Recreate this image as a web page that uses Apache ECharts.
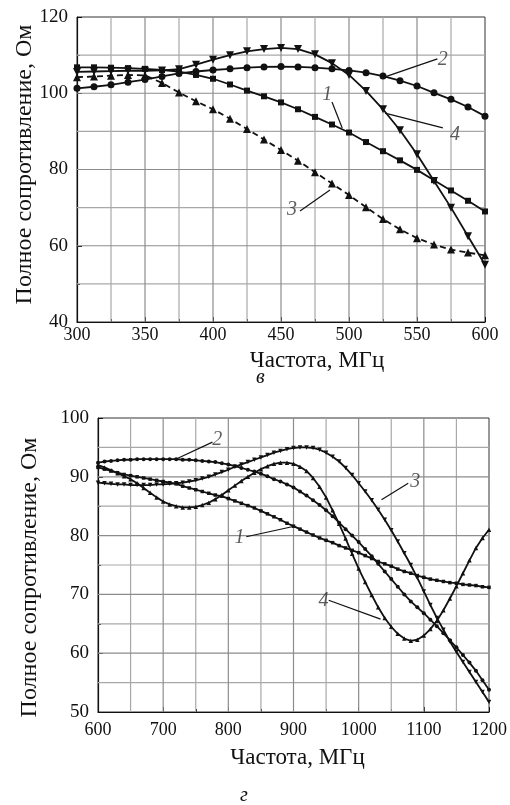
<!DOCTYPE html>
<html>
<head>
<meta charset="utf-8">
<script src="https://cdn.jsdelivr.net/npm/echarts@6/dist/echarts.min.js"></script>
<style>
  html, body { margin: 0; padding: 0; background: #fff; }
  #chartTop { position: absolute; left: 0; top: 0; width: 510px; height: 400px; }
  #chartBot { position: absolute; left: 0; top: 400px; width: 510px; height: 405px; }
</style>
</head>
<body>
<div id="chartTop"></div>
<div id="chartBot"></div>
<script>
// ---- panel "в": 300..600 MHz ----
const freqTop = [300, 312.5, 325, 337.5, 350, 362.5, 375, 387.5, 400, 412.5, 425, 437.5, 450,
  462.5, 475, 487.5, 500, 512.5, 525, 537.5, 550, 562.5, 575, 587.5, 600]
const top1 = [106.8, 106.8, 106.7, 106.6, 106.4, 106.1, 105.7, 104.8, 103.8, 102.3, 100.7, 99.2, 97.6,
  95.8, 93.8, 91.8, 89.7, 87.2, 84.8, 82.4, 79.9, 77.2, 74.5, 71.8, 69.0]
const top2 = [101.3, 101.7, 102.2, 102.9, 103.6, 104.4, 105.2, 105.7, 106.1, 106.4, 106.7, 106.9, 107.0,
  106.9, 106.7, 106.4, 106.0, 105.4, 104.5, 103.3, 101.9, 100.1, 98.4, 96.4, 94.0]
const top3 = [104.2, 104.4, 104.6, 104.8, 104.7, 102.7, 100.2, 97.9, 95.8, 93.3, 90.6, 87.9, 85.1,
  82.3, 79.3, 76.3, 73.3, 70.1, 67.0, 64.3, 62.0, 60.3, 59.0, 58.2, 57.5]
const top4 = [105.6, 105.7, 105.8, 105.9, 105.9, 106.0, 106.3, 107.5, 108.8, 110.0, 111.0, 111.6, 111.9,
  111.6, 110.2, 107.9, 104.8, 100.6, 95.8, 90.3, 84.0, 77.0, 70.0, 62.5, 55.0]
// grid lines inside the frame (major / minor)
const topGridX = [350, 400, 450, 500, 550]
const topMinorX = [325, 375, 425, 475, 525, 575]
const topGridY = [60, 80, 100]
const topMinorY = [50, 70, 90, 110]

// ---- panel "г": 600..1200 MHz, every 10 MHz ----
const freqBot = []
for (let f = 600; f <= 1200; f += 10) freqBot.push(f)
const bot1 = [91.6, 91.3, 91.0, 90.7, 90.4, 90.2, 90.0, 89.8, 89.6, 89.4, 89.2,
  89.0, 88.8, 88.4, 88.1, 87.8, 87.5, 87.2, 86.9, 86.7, 86.3,
  85.9, 85.5, 85.1, 84.7, 84.2, 83.7, 83.2, 82.7, 82.1, 81.6,
  81.1, 80.6, 80.1, 79.6, 79.2, 78.8, 78.3, 77.9, 77.5, 77.1,
  76.6, 76.1, 75.6, 75.2, 74.8, 74.3, 73.9, 73.6, 73.2, 72.9,
  72.6, 72.4, 72.2, 72.0, 71.9, 71.7, 71.6, 71.5, 71.3, 71.2]
const bot2 = [92.4, 92.6, 92.7, 92.8, 92.9, 92.9, 93.0, 93.0, 93.0, 93.0, 93.0,
  93.0, 93.0, 92.9, 92.9, 92.8, 92.7, 92.6, 92.5, 92.3, 92.1,
  91.8, 91.5, 91.2, 90.9, 90.5, 90.1, 89.6, 89.2, 88.7, 88.2,
  87.5, 86.8, 86.0, 85.2, 84.3, 83.3, 82.2, 81.1, 80.0, 78.9,
  77.7, 76.5, 75.2, 73.9, 72.6, 71.3, 70.0, 68.8, 67.8, 66.8,
  65.7, 64.6, 63.4, 62.2, 61.0, 59.7, 58.4, 57.0, 55.4, 53.8]
const bot3 = [89.0, 88.9, 88.8, 88.7, 88.7, 88.6, 88.6, 88.6, 88.6, 88.7, 88.7,
  88.8, 88.9, 89.0, 89.2, 89.4, 89.7, 90.0, 90.4, 90.8, 91.2,
  91.7, 92.1, 92.5, 92.9, 93.3, 93.7, 94.1, 94.4, 94.7, 94.9,
  95.0, 95.0, 94.9, 94.6, 94.1, 93.4, 92.6, 91.5, 90.3, 88.9,
  87.5, 86.0, 84.4, 82.7, 80.9, 79.0, 77.0, 75.0, 72.8, 70.5,
  68.2, 66.0, 64.0, 62.0, 60.2, 58.5, 56.8, 55.1, 53.4, 51.7]
const bot4 = [92.0, 91.6, 91.1, 90.6, 90.1, 89.6, 88.9, 88.1, 87.3, 86.5, 85.8,
  85.3, 85.0, 84.8, 84.8, 84.9, 85.2, 85.6, 86.2, 86.9, 87.7,
  88.5, 89.3, 90.0, 90.7, 91.3, 91.8, 92.2, 92.4, 92.4, 92.2,
  91.7, 91.0, 89.8, 88.3, 86.5, 84.3, 82.0, 79.5, 76.9, 74.4,
  72.1, 69.9, 67.8, 66.0, 64.5, 63.3, 62.5, 62.1, 62.3, 63.0,
  64.1, 65.5, 67.3, 69.3, 71.4, 73.6, 75.8, 77.9, 79.6, 81.0]
const botGridX = [700, 800, 900, 1000, 1100]
const botMinorX = [650, 750, 850, 950, 1050, 1150]
const botGridY = [60, 70, 80, 90]
const botMinorY = [55, 65, 75, 85, 95]

// curve numbers and their leader lines, in data units
const noteText = ['1', '2', '3', '4']
const topNoteAt = [[484, 99.5], [569, 108.7], [458, 69.4], [578, 89]]
const topNoteLine = [[[487.5, 97.7], [495, 90.9]], [[565, 109], [526.5, 104.3]],
  [[464, 69.1], [486, 74.6]], [[569, 90.9], [526.5, 94.8]]]
const botNoteAt = [[817, 79.6], [783, 96.3], [1087, 89.1], [946, 69]]
const botNoteLine = [[[827.5, 79.8], [897.7, 81.5]], [[775.6, 95.9], [717.6, 92.9]],
  [[1076, 88.9], [1035, 86.1]], [[954, 69], [1033.6, 65.8]]]

const serif = 'Liberation Serif'
const ink = '#111'

const pairs = (xs, ys) => xs.map((x, i) => [x, ys[i]])

const xAxisOf = (min, max, interval, margin, nameGap, namePad) => ({
  type: 'value', min, max, interval, position: 'bottom',
  name: 'Частота, МГц', nameLocation: 'middle', nameGap,
  nameTextStyle: { fontFamily: serif, fontSize: 23, color: ink, padding: namePad },
  axisLine: { show: true, onZero: false, lineStyle: { color: ink, width: 1.2 } },
  axisTick: { show: true, inside: true, length: 5, lineStyle: { color: ink } },
  minorTick: { show: true, splitNumber: 2, length: 3, lineStyle: { color: ink } },
  axisLabel: { fontFamily: serif, fontSize: 18, color: ink, margin, formatter: v => String(v) },
  splitLine: { show: false }
})
const yAxisOf = (min, max, interval, nameGap, namePad) => ({
  type: 'value', min, max, interval, position: 'left',
  name: 'Полное сопротивление, Ом', nameLocation: 'middle', nameGap, nameRotate: 90,
  nameMoveOverlap: false,
  nameTextStyle: { fontFamily: serif, fontSize: 24, color: ink, padding: namePad },
  axisLine: { show: true, onZero: false, lineStyle: { color: ink, width: 1.2 } },
  axisTick: { show: true, inside: true, length: 5, lineStyle: { color: ink } },
  minorTick: { show: true, splitNumber: 2, length: 3, lineStyle: { color: ink } },
  axisLabel: { fontFamily: serif, fontSize: 19, color: ink, margin: 9, formatter: v => String(v) },
  splitLine: { show: false }
})

// grid lines drawn as thin series through the same scales
const gridLines = (xs, ys, xr, yr, color) => [
  ...xs.map(x => [[x, yr[0]], [x, yr[1]]]),
  ...ys.map(y => [[xr[0], y], [xr[1], y]])
].map(seg => ({
  type: 'line', data: seg, symbol: 'none', animation: false, silent: true,
  lineStyle: { color, width: 1.2, opacity: 1 }, z: 2
}))

const curve = (data, symbol, size, extra) => Object.assign({
  type: 'line', data, symbol, symbolSize: size, showSymbol: true,
  animation: false, silent: true,
  lineStyle: { color: ink, width: 1.8 },
  itemStyle: { color: ink, borderWidth: 0 },
  z: 3
}, extra || {})

const leaders = lines => lines.map(seg => ({
  type: 'line', data: seg, symbol: 'none', animation: false, silent: true,
  lineStyle: { color: ink, width: 1.2 }, z: 4
}))
const noteLabels = at => ({
  type: 'scatter', symbolSize: 1, animation: false, silent: true,
  itemStyle: { color: 'rgba(0,0,0,0)' },
  data: at.map((p, i) => ({ value: p, name: noteText[i] })),
  label: {
    show: true, position: 'inside', formatter: p => p.name,
    fontFamily: serif, fontStyle: 'italic', fontSize: 20, color: '#333'
  },
  z: 5
})

const panel = (grid, xAxis, yAxis, series, caption) => ({
  backgroundColor: '#fff',
  animation: false,
  grid: Object.assign({ show: true, borderColor: '#333', borderWidth: 1, backgroundColor: 'transparent' }, grid),
  xAxis, yAxis, series,
  graphic: [{ type: 'text', left: caption[0], top: caption[1],
    style: { text: caption[2], font: 'italic 20px "Liberation Serif"', fill: ink } }]
})

const chartTop = echarts.init(document.getElementById('chartTop'))
chartTop.setOption(panel(
  { left: 77, top: 17, width: 408, height: 305 },
  xAxisOf(300, 600, 50, 4, 27, [0, 0, 0, 72]),
  yAxisOf(40, 120, 20, 40, [0, 0, 0, 10]),
  [
    ...gridLines(topMinorX, topMinorY, [300, 600], [40, 120], '#a8a8a8'),
    ...gridLines(topGridX, topGridY, [300, 600], [40, 120], '#8c8c8c'),
    curve(pairs(freqTop, top1), 'rect', 6),
    curve(pairs(freqTop, top2), 'circle', 7),
    curve(pairs(freqTop, top3), 'triangle', 8, { lineStyle: { color: ink, width: 1.8, type: [6, 4] } }),
    curve(pairs(freqTop, top4), 'triangle', 8, { symbolRotate: 180 }),
    ...leaders(topNoteLine),
    noteLabels(topNoteAt)
  ],
  [256, 368, 'в']
))

const chartBot = echarts.init(document.getElementById('chartBot'))
chartBot.setOption(panel(
  { left: 98, top: 18, width: 393, height: 294 },
  xAxisOf(600, 1200, 100, 9, 34, [0, 0, 0, 8]),
  yAxisOf(50, 100, 10, 56, [0, 25, 0, 0]),
  [
    ...gridLines(botMinorX, botMinorY, [600, 1200], [50, 100], '#a8a8a8'),
    ...gridLines(botGridX, botGridY, [600, 1200], [50, 100], '#8c8c8c'),
    curve(pairs(freqBot, bot1), 'rect', 3.5),
    curve(pairs(freqBot, bot2), 'circle', 4),
    curve(pairs(freqBot, bot3), 'triangle', 4.5, { symbolRotate: 180 }),
    curve(pairs(freqBot, bot4), 'triangle', 4.5),
    ...leaders(botNoteLine),
    noteLabels(botNoteAt)
  ],
  [240, 386, 'г']
))
</script>
</body>
</html>
